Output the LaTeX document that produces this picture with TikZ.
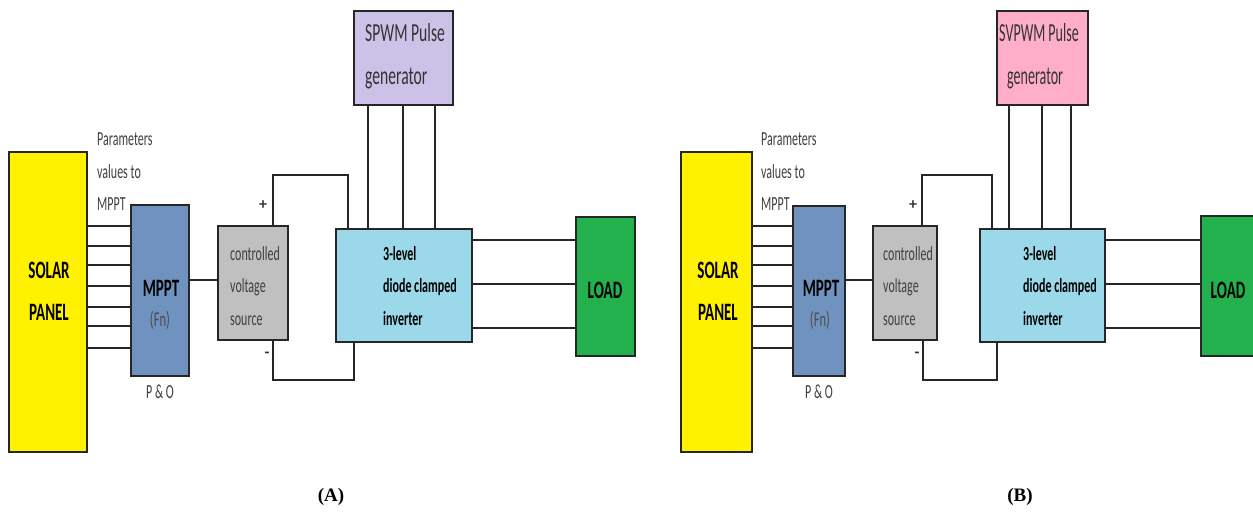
\documentclass[tikz,border=0pt]{standalone}
\usepackage{fontspec}
\setmainfont{Carlito}
\newfontfamily\capfont{Liberation Serif}
\definecolor{solar}{RGB}{255,242,0}
\definecolor{mpptc}{RGB}{111,146,190}
\definecolor{cvsc}{RGB}{192,192,192}
\definecolor{invc}{RGB}{155,217,234}
\definecolor{spwmc}{RGB}{204,193,230}
\definecolor{svpwmc}{RGB}{255,174,201}
\definecolor{loadc}{RGB}{34,177,76}
\definecolor{txtgray}{RGB}{64,64,64}
\newcommand\sq[1]{\scalebox{0.6}[1]{#1}}
\newcommand\sqb[1]{\scalebox{0.54}[1]{#1}}
\tikzset{
  box/.style={draw=black!85, line width=1.8pt, inner sep=0pt},
  wire/.style={draw=black!85, line width=1.7pt},
  txt/.style={inner sep=0pt, align=left, font=\fontsize{20}{32.5}\selectfont, text=txtgray},
  btxt/.style={inner sep=0pt, align=left, font=\bfseries\fontsize{20}{32.5}\selectfont, text=black},
  bigb/.style={inner sep=0pt, align=center, font=\bfseries\fontsize{25}{42}\selectfont, text=black},
  pm/.style={inner sep=0pt, font=\bfseries\fontsize{16}{16}\selectfont, text=black!80},
  captxt/.style={inner sep=0pt, font=\capfont\bfseries\fontsize{19}{19}\selectfont}
}
\begin{document}
\begin{tikzpicture}[x=1pt,y=-1pt]
\useasboundingbox (0,0) rectangle (1253,513);
\fill[white] (0,0) rectangle (1253,513);
\begin{scope}
\clip (0,0) rectangle (1253,513);
% ================= Panel A =================
\node[box, fill=solar, minimum width=78pt, minimum height=300pt] (solarA) at (48,302) {};
\node[box, fill=mpptc, minimum width=58pt, minimum height=171pt] (mpptA) at (160,290.5) {};
\node[box, fill=cvsc, minimum width=70pt, minimum height=114pt] (cvsA) at (253,283) {};
\node[box, fill=invc, minimum width=136pt, minimum height=113pt] (invA) at (404,285.5) {};
\node[box, fill=spwmc, minimum width=99pt, minimum height=94pt] (pwmA) at (403.5,58) {};
\node[box, fill=loadc, minimum width=59pt, minimum height=139pt] (loadA) at (605.5,286.5) {};

\node[bigb] (solarAt) at (49,291) {\sq{SOLAR}\\\sq{PANEL}};
\node[bigb] (mpptAt) at (161,288) {\sq{MPPT}};
\node[txt, text=black!70, font=\fontsize{21}{21}\selectfont] (fnA) at (160,320) {\sq{(Fn)}};
\node[txt] (poA) at (160,392) {\sq{P \& O}};
\node[txt, anchor=west] (parA) at (97,172) {\sq{Parameters}\\\sq{values to}\\\sq{MPPT}};
\node[txt, anchor=west] (cvsAt) at (230,286) {\sq{controlled}\\\sq{voltage}\\\sq{source}};
\node[btxt, anchor=west] (invAt) at (383,286) {\sq{3-level}\\\sq{diode clamped}\\\sq{inverter}};
\node[txt, anchor=west, text=black!80, font=\fontsize{26}{43}\selectfont] (pwmAt) at (365,56) {\sq{SPWM Pulse}\\\sq{generator}};
\node[bigb] (loadAt) at (605,290) {\sq{LOAD}};
\node[pm] (plusA) at (263,205) {+};
\node[pm] (minusA) at (267,355) {-};

\foreach \y in {226,246,265,286,307,326,348}
  \draw[wire] (solarA.east |- 0,\y) -- (mpptA.west |- 0,\y);
\draw[wire] (mpptA.east |- 0,280) -- (cvsA.west |- 0,280);
\draw[wire] (cvsA.north -| 273,0) |- (348,175) -- (invA.north -| 348,0);
\draw[wire] (cvsA.south -| 273,0) |- (354,380) -- (invA.south -| 354,0);
\foreach \x in {368,403,435}
  \draw[wire] (pwmA.south -| \x,0) -- (invA.north -| \x,0);
\foreach \y in {240,284,328}
  \draw[wire] (invA.east |- 0,\y) -- (loadA.west |- 0,\y);

% ================= Panel B =================
\node[box, fill=solar, minimum width=71pt, minimum height=300pt] (solarB) at (716.5,302) {};
\node[box, fill=mpptc, minimum width=52pt, minimum height=170pt] (mpptB) at (819,291) {};
\node[box, fill=cvsc, minimum width=64pt, minimum height=114pt] (cvsB) at (905,283) {};
\node[box, fill=invc, minimum width=125pt, minimum height=113pt] (invB) at (1042.5,285.5) {};
\node[box, fill=svpwmc, minimum width=91pt, minimum height=94pt] (pwmB) at (1042.5,58) {};
\node[box, fill=loadc, minimum width=64pt, minimum height=140pt] (loadB) at (1233,286) {};

\node[bigb] (solarBt) at (718,291) {\sq{SOLAR}\\\sq{PANEL}};
\node[bigb] (mpptBt) at (821,288) {\sq{MPPT}};
\node[txt, text=black!70, font=\fontsize{21}{21}\selectfont] (fnB) at (820,320) {\sq{(Fn)}};
\node[txt] (poB) at (819,392) {\sq{P \& O}};
\node[txt, anchor=west] (parB) at (761,172) {\sq{Parameters}\\\sq{values to}\\\sq{MPPT}};
\node[txt, anchor=west] (cvsBt) at (883,286) {\sq{controlled}\\\sq{voltage}\\\sq{source}};
\node[btxt, anchor=west] (invBt) at (1023,286) {\sq{3-level}\\\sq{diode clamped}\\\sq{inverter}};
\node[txt, anchor=west, text=black!80, font=\fontsize{26}{43}\selectfont] (pwmBt) at (999,56) {\sqb{SVPWM Pulse}\\\hspace*{8pt}\sqb{generator}};
\node[bigb] (loadBt) at (1228,290) {\sq{LOAD}};
\node[pm] (plusB) at (913,205) {+};
\node[pm] (minusB) at (917,355) {-};

\foreach \y in {226,246,265,286,307,326,348}
  \draw[wire] (solarB.east |- 0,\y) -- (mpptB.west |- 0,\y);
\draw[wire] (mpptB.east |- 0,280) -- (cvsB.west |- 0,280);
\draw[wire] (cvsB.north -| 922,0) |- (992,175) -- (invB.north -| 992,0);
\draw[wire] (cvsB.south -| 923,0) |- (997,380) -- (invB.south -| 997,0);
\foreach \x in {1009,1042,1071}
  \draw[wire] (pwmB.south -| \x,0) -- (invB.north -| \x,0);
\foreach \y in {240,284,328}
  \draw[wire] (invB.east |- 0,\y) -- (loadB.west |- 0,\y);

% captions
\node[captxt] (capA) at (331,497) {(A)};
\node[captxt] (capB) at (1020,497) {(B)};
\end{scope}
\end{tikzpicture}
\end{document}
